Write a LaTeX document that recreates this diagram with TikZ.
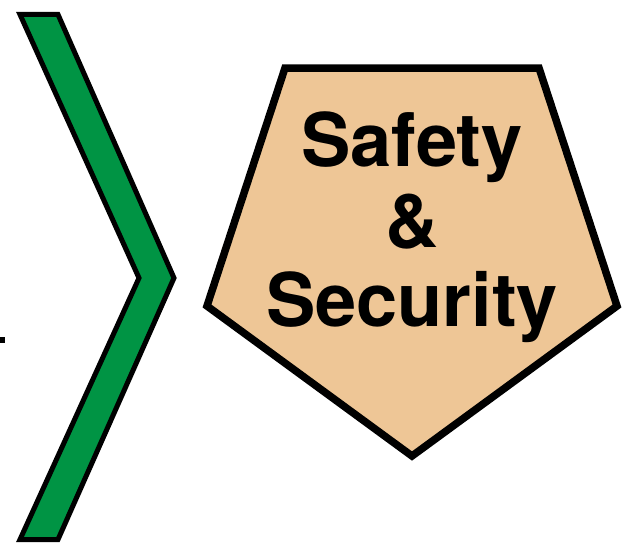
\documentclass[tikz,border=0pt]{standalone}
\usepackage{fontspec}
\setmainfont{TeX Gyre Heros}
\definecolor{chevgreen}{RGB}{0,148,68}
\definecolor{tan}{RGB}{238,198,150}
\tikzset{
  chev/.style={fill=chevgreen, draw=black, line width=5pt, line join=miter},
  penta/.style={fill=tan, draw=black, line width=7.5pt, line join=miter},
  label/.style={font=\fontsize{74}{80}\selectfont\bfseries, anchor=base, inner sep=0pt}
}
\begin{document}
\begin{tikzpicture}[x=1pt,y=-1pt]
\useasboundingbox (0,0) rectangle (639,543);
% small line end at left
\fill[black] (0,337) rectangle (5,343);
% chevron
\draw[chev] (20,14.5) -- (58,14.5) -- (174,278) -- (58,539.5) -- (20,539.5) -- (139,278) -- cycle;
% pentagon
\draw[penta] (285,68) -- (539,68) -- (617,306) -- (412,456) -- (207,306) -- cycle;
\node[label] (l1) at (412,166) {Safety};
\node[label] (l2) at (412,247) {\&};
\node[label] (l3) at (412,326) {Security};
\end{tikzpicture}
\end{document}
